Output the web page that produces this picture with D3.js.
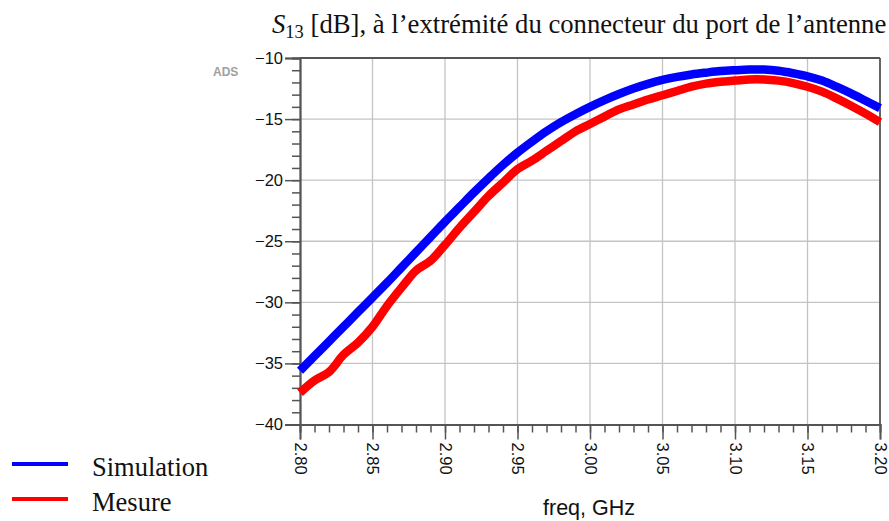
<!DOCTYPE html>
<html><head><meta charset="utf-8">
<script src="https://cdn.jsdelivr.net/npm/d3@7"></script>
<style>body{margin:0;background:#fff}svg{display:block}</style>
</head><body>
<svg id="c" width="889" height="521"></svg>
<script>
const freq = d3.range(41).map(i => +(2.80 + i * 0.01).toFixed(2));
const simulation = [-35.6,-34.4,-33.2,-32.0,-30.8,-29.6,-28.4,-27.15,-25.9,-24.65,
  -23.4,-22.2,-21.0,-19.85,-18.75,-17.75,-16.85,-16.0,-15.25,-14.6,
  -14.0,-13.45,-12.95,-12.5,-12.12,-11.8,-11.55,-11.35,-11.2,-11.07,
  -11.0,-10.95,-10.95,-11.05,-11.25,-11.5,-11.85,-12.35,-12.9,-13.5,-14.1];
const mesure = [-37.4,-36.4,-35.7,-34.3,-33.3,-32.0,-30.3,-28.8,-27.4,-26.6,
  -25.3,-23.9,-22.6,-21.3,-20.2,-19.1,-18.4,-17.6,-16.8,-16.0,
  -15.4,-14.8,-14.2,-13.8,-13.4,-13.05,-12.7,-12.35,-12.1,-11.95,
  -11.85,-11.75,-11.75,-11.85,-12.05,-12.35,-12.75,-13.3,-13.9,-14.55,-15.25];
const xTicks = [2.80,2.85,2.90,2.95,3.00,3.05,3.10,3.15,3.20];
const yTicks = [-40,-35,-30,-25,-20,-15,-10];
const seriesNames = ["Simulation","Mesure"];
const seriesColors = ["#0000ff","#ff0000"];

const svg = d3.select("#c");
const x = d3.scaleLinear().domain([2.80,3.20]).range([300,880]);
const y = d3.scaleLinear().domain([-40,-10]).range([424.5,58]);
const axisCol = "#555";
const gridCol = "#c4c4c4";
const tickFont = "'Liberation Sans', Arial, sans-serif";
const serif = "'Liberation Serif', 'Times New Roman', serif";

// grid
svg.append("g").selectAll("line").data(xTicks.slice(1,-1)).join("line")
  .attr("x1", d=>x(d)).attr("x2", d=>x(d)).attr("y1", y(-10)).attr("y2", y(-40))
  .attr("stroke", gridCol).attr("stroke-width", 1.3);
svg.append("g").selectAll("line").data(yTicks.slice(1,-1)).join("line")
  .attr("x1", x(2.8)).attr("x2", x(3.2)).attr("y1", d=>y(d)).attr("y2", d=>y(d))
  .attr("stroke", gridCol).attr("stroke-width", 1.3);

// minor ticks
const xMinor = d3.range(41).map(i => 2.80 + i*0.01);
const yMinor = d3.range(31).map(i => -40 + i);
const gyMinor = svg.append("g").attr("transform", `translate(${x(2.8)},0)`)
  .call(d3.axisLeft(y).tickValues(yMinor).tickSize(8).tickFormat(""));
const gy = svg.append("g").attr("transform", `translate(${x(2.8)},0)`)
  .call(d3.axisLeft(y).tickValues(yTicks).tickSize(15).tickPadding(2).tickFormat(d3.format("d")));
const gxMinor = svg.append("g").attr("transform", `translate(0,${y(-40)})`)
  .call(d3.axisBottom(x).tickValues(xMinor).tickSize(8).tickFormat(""));
const gx = svg.append("g").attr("transform", `translate(0,${y(-40)})`)
  .call(d3.axisBottom(x).tickValues(xTicks).tickSize(15).tickFormat(d3.format(".2f")));
[gyMinor, gy, gxMinor, gx].forEach(g => {
  g.select(".domain").attr("stroke", axisCol).attr("stroke-width", 1.8);
  g.selectAll(".tick line").attr("stroke", axisCol).attr("stroke-width", 1.5);
});
gy.selectAll("text").attr("font-family", tickFont).attr("font-size", 16.5).attr("fill", "#111");
gx.selectAll("text").attr("font-family", tickFont).attr("font-size", 16.5).attr("fill", "#111")
  .attr("text-anchor", "start").attr("transform", "rotate(90)")
  .attr("y", 0).attr("x", 18).attr("dy", "0.35em");

// top and right border
svg.append("line").attr("x1", x(2.8)).attr("x2", x(3.2)).attr("y1", y(-10)).attr("y2", y(-10))
  .attr("stroke", axisCol).attr("stroke-width", 1.8);
svg.append("line").attr("x1", x(3.2)).attr("x2", x(3.2)).attr("y1", y(-10)).attr("y2", y(-40))
  .attr("stroke", axisCol).attr("stroke-width", 1.8);

// curves
const line = d3.line().x((d,i)=>x(freq[i])).y(d=>y(d)).curve(d3.curveCatmullRom);
[simulation, mesure].forEach((s,k) => {
  svg.append("path").attr("d", line(s)).attr("fill","none")
    .attr("stroke", seriesColors[k]).attr("stroke-width", 8.5)
    .attr("stroke-linejoin","round");
});

// title
const title = svg.append("text").attr("x", 272).attr("y", 33)
  .attr("font-family", serif).attr("font-size", 26.7).attr("fill","#111");
title.append("tspan").attr("font-style","italic").text("S");
title.append("tspan").attr("font-size", 18.5).attr("dy", 5).text("13");
title.append("tspan").attr("dy", -5).text(" [dB], à l’extrémité du connecteur du port de l’antenne");

// ADS label
svg.append("text").attr("x", 213).attr("y", 76).attr("font-family", tickFont)
  .attr("font-weight","bold").attr("font-size", 12).attr("fill","#a0a0a0").text("ADS");

// x axis title
svg.append("text").attr("x", 543).attr("y", 515).attr("font-family", tickFont)
  .attr("font-size", 21.5).attr("fill","#111").text("freq, GHz");

// legend
const legY = [464, 499];
seriesNames.forEach((n,k) => {
  svg.append("line").attr("x1", 12).attr("x2", 68).attr("y1", legY[k]).attr("y2", legY[k])
    .attr("stroke", seriesColors[k]).attr("stroke-width", 4);
  svg.append("text").attr("x", 92).attr("y", legY[k] + 12)
    .attr("font-family", serif).attr("font-size", 26.5)
    .attr("fill","#111").text(n);
});
</script>
</body></html>
